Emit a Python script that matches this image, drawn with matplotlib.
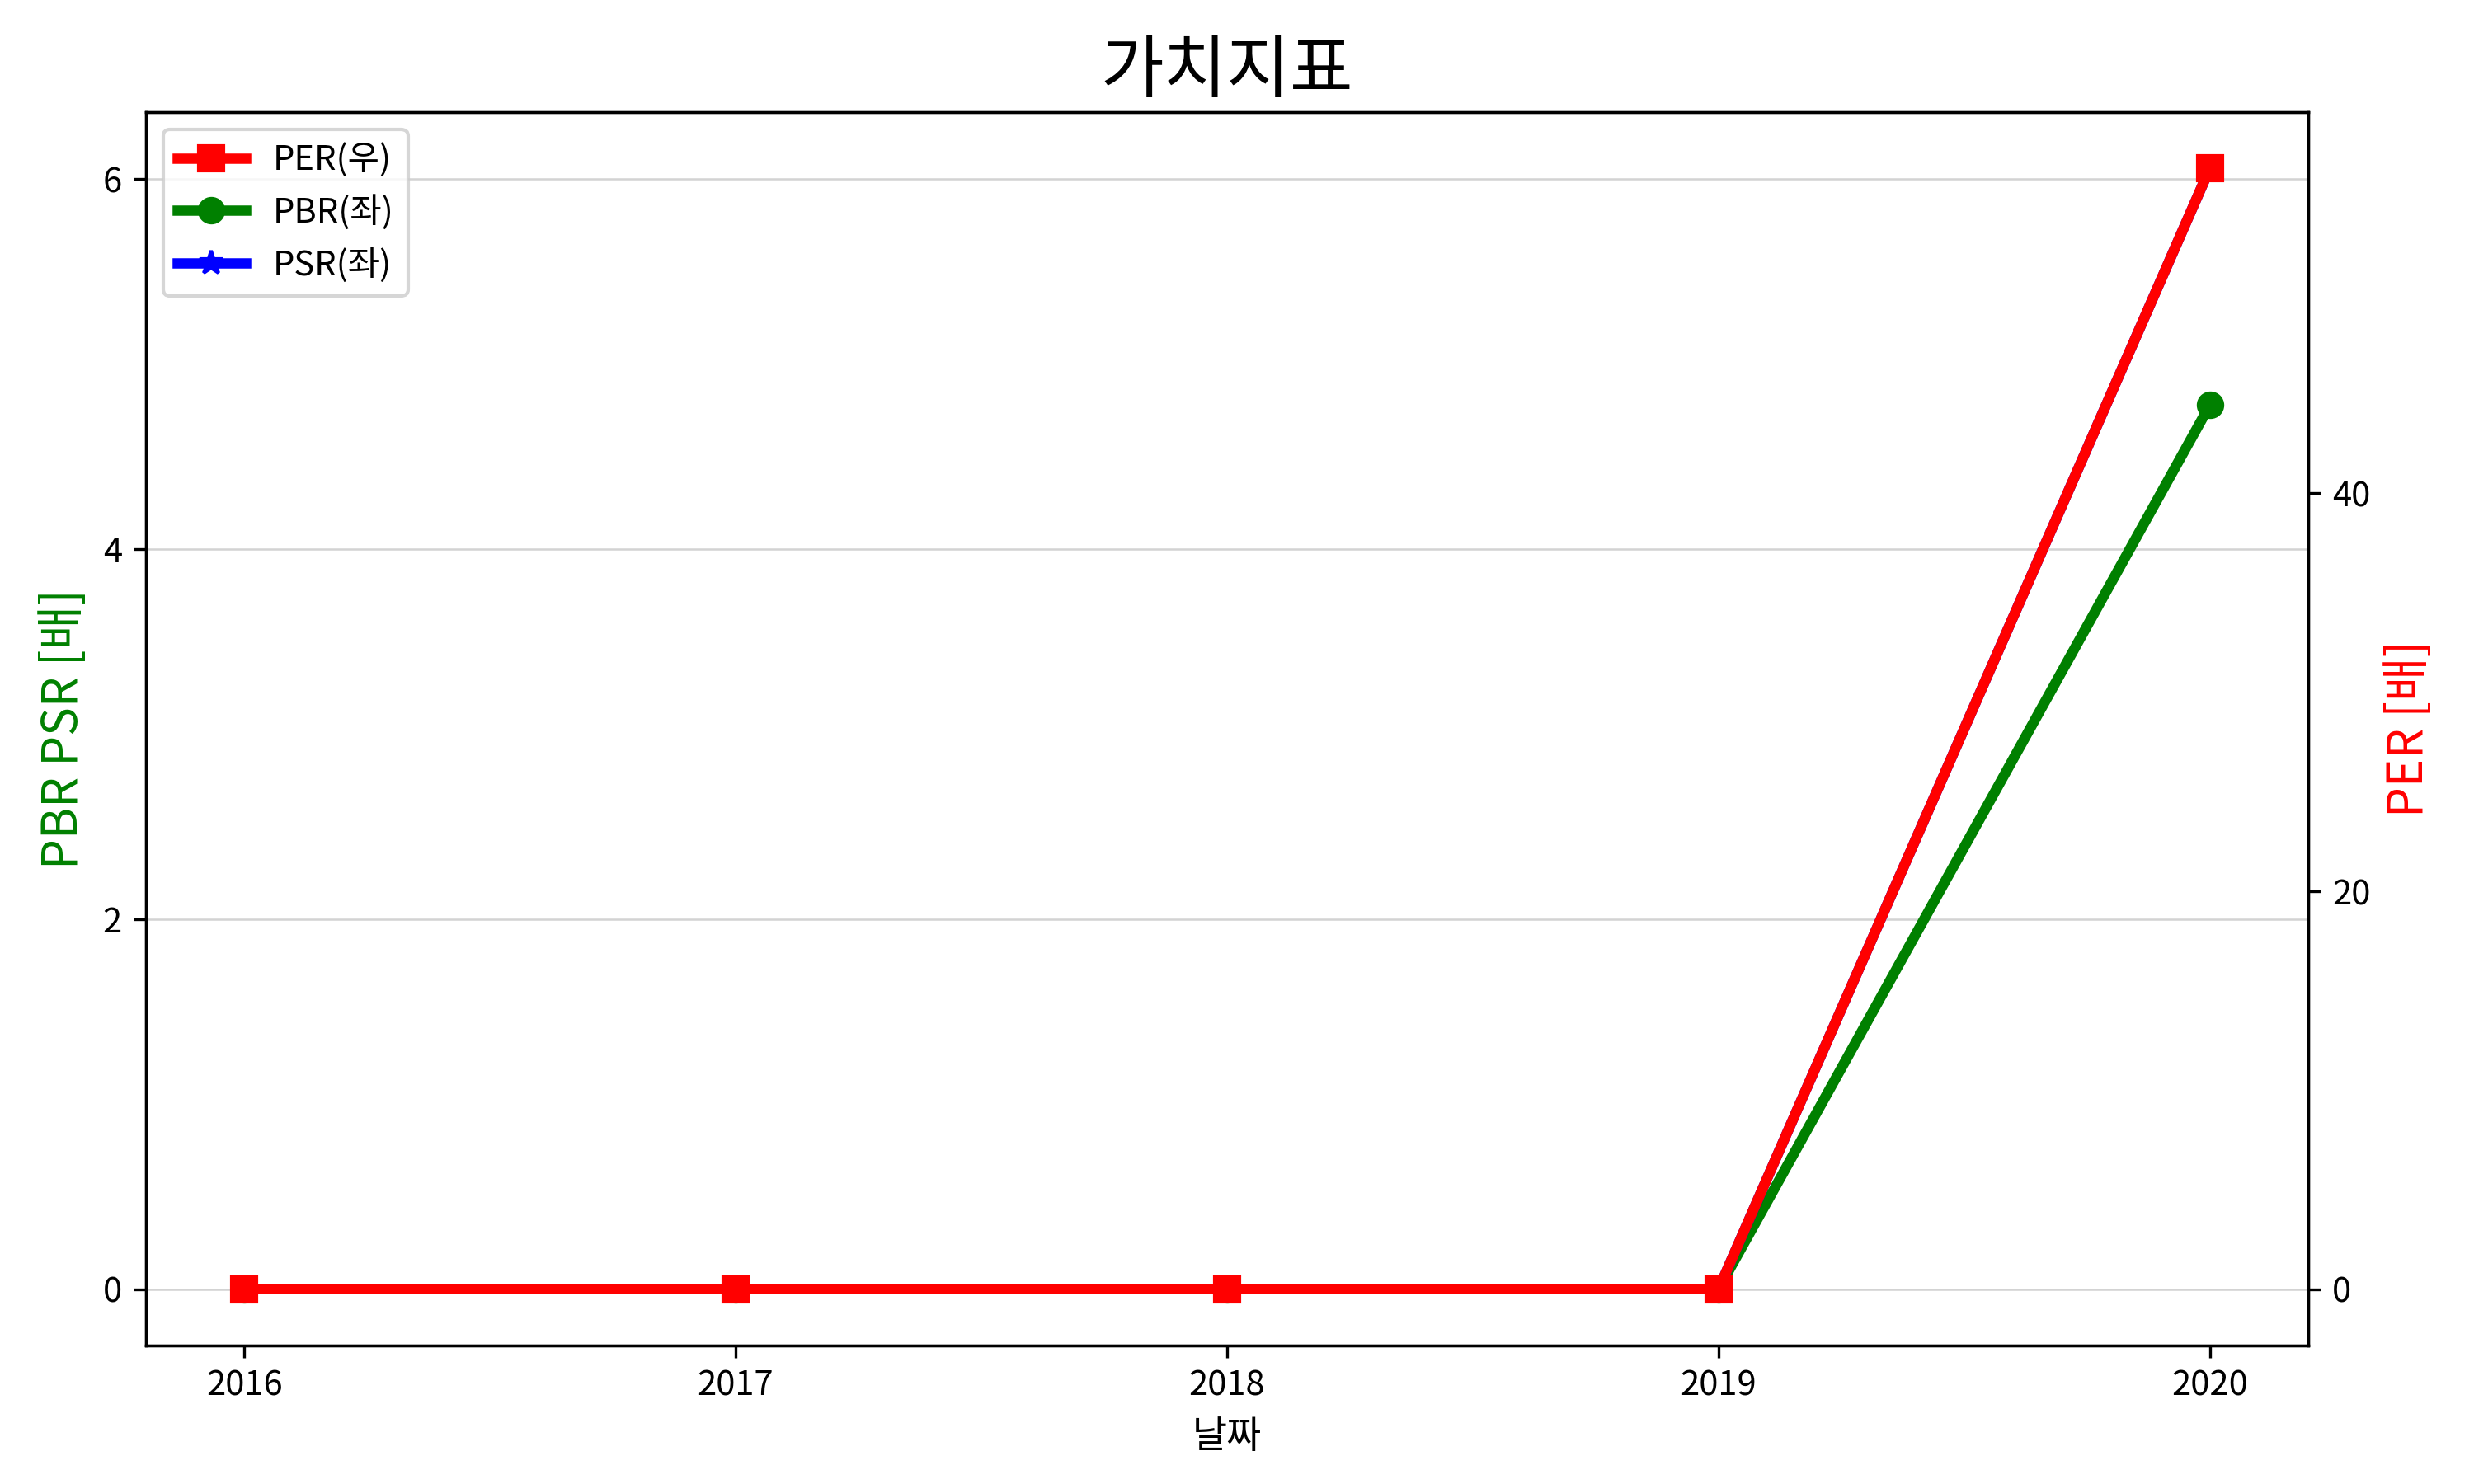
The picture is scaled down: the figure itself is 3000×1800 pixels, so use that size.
import numpy as np
import matplotlib
matplotlib.use('Agg')
from matplotlib import pyplot as plt
from matplotlib.ticker import MultipleLocator

plt.rcParams['font.family'] = ['Noto Sans CJK KR', 'DejaVu Sans']
plt.rcParams['axes.unicode_minus'] = False

years = ['2016', '2017', '2018', '2019', '2020']
per = [0, 0, 0, 0, 56.35]
pbr = [0, 0, 0, 0, 4.78]
psr = [0, 0, 0, 0, 6.06]

fig, ax1 = plt.subplots(figsize=(10, 6), dpi=300)
ax2 = ax1.twinx()

l2, = ax1.plot(years, pbr, color='green', marker='o', markersize=7, linewidth=3, label='PBR(좌)')
l3, = ax1.plot(years, psr, color='blue', marker='*', markersize=7, linewidth=3, label='PSR(좌)')
l1, = ax2.plot(years, per, color='red', marker='s', markersize=7, linewidth=3, label='PER(우)')

ax1.yaxis.set_major_locator(MultipleLocator(2))
ax2.yaxis.set_major_locator(MultipleLocator(20))
ax1.grid(axis='y', color='lightgray', linewidth=0.6)

ax1.set_xlabel('날짜', fontsize=11)
ax1.set_ylabel('PBR PSR [배]', color='green', fontsize=14)
ax2.set_ylabel('PER [배]', color='red', fontsize=14)
ax1.set_title('가치지표', fontsize=20)

ax1.legend(handles=[l1, l2, l3], loc='upper left', fontsize=10)

plt.subplots_adjust(left=0.059, right=0.933, top=0.9245, bottom=0.0935)
plt.savefig('out.png')
